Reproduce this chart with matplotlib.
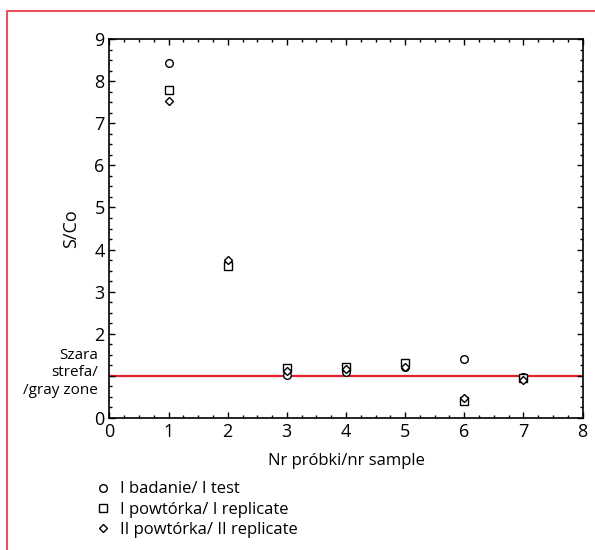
import matplotlib.pyplot as plt
from matplotlib.ticker import MultipleLocator
from matplotlib.lines import Line2D

plt.rcParams['font.family'] = ['Open Sans', 'DejaVu Sans']

samples = [1, 2, 3, 4, 5, 6, 7]
test_1 = [8.43, 3.68, 1.02, 1.09, 1.21, 1.40, 0.97]
replicate_1 = [7.78, 3.60, 1.19, 1.21, 1.31, 0.41, 0.96]
replicate_2 = [7.53, 3.76, 1.12, 1.16, 1.20, 0.47, 0.90]
gray_zone = 1.0
y_ticks = [0, 1, 2, 3, 4, 5, 6, 7, 8, 9]
y_tick_labels = ['0', '', '2', '3', '4', '5', '6', '7', '8', '9']

fig = plt.figure(figsize=(5.95, 5.5), dpi=100)
ax = fig.add_axes([0.184, 0.24, 0.795, 0.689])

ax.axhline(gray_zone, color='#e3202c', lw=1.6, zorder=1)

ax.plot(samples, test_1, 'o', mfc='white', mec='black', ms=5.5, mew=1.0, zorder=3)
ax.plot(samples, replicate_1, 's', mfc='white', mec='black', ms=5.5, mew=1.0, zorder=4)
ax.plot(samples, replicate_2, 'D', mfc='white', mec='black', ms=4.0, mew=1.0, zorder=5)

ax.set_xlim(0, 8)
ax.set_ylim(0, 9)
ax.xaxis.set_major_locator(MultipleLocator(1))
ax.set_yticks(y_ticks)
ax.set_yticklabels(y_tick_labels)
ax.xaxis.set_minor_locator(MultipleLocator(0.25))
ax.yaxis.set_minor_locator(MultipleLocator(0.25))
ax.tick_params(which='both', direction='in', top=True, right=True, labelsize=13)
ax.tick_params(which='major', length=4, width=1)
ax.tick_params(which='minor', length=2, width=1)
for s in ax.spines.values():
    s.set_linewidth(1.2)

ax.set_xlabel('Nr próbki/nr sample', fontsize=12, labelpad=9)
ax.set_ylabel('S/Co', fontsize=13, labelpad=10)

# gray zone label sits in place of the "1" tick label
ax.text(-0.025, 0.119, 'Szara\nstrefa/\n/gray zone', transform=ax.transAxes,
        ha='right', va='center', fontsize=11, linespacing=1.2)

# legend below the axes
handles = [Line2D([], [], ls='none', marker='o', mfc='white', mec='black', ms=5.5),
           Line2D([], [], ls='none', marker='s', mfc='white', mec='black', ms=5.5),
           Line2D([], [], ls='none', marker='D', mfc='white', mec='black', ms=4)]
labels = ['I badanie/ I test', 'I powtórka/ I replicate', 'II powtórka/ II replicate']
fig.legend(handles, labels, loc='upper left', bbox_to_anchor=(0.145, 0.14),
           frameon=False, fontsize=12, handlelength=1.0, handletextpad=0.5,
           labelspacing=0.25, borderpad=0)

# pink frame on top and left
fig.add_artist(Line2D([0.012, 0.012, 1.0], [0.0, 0.98, 0.98], transform=fig.transFigure,
                      color='#e8505b', lw=1.5))

fig.savefig('out.png', dpi=100)
